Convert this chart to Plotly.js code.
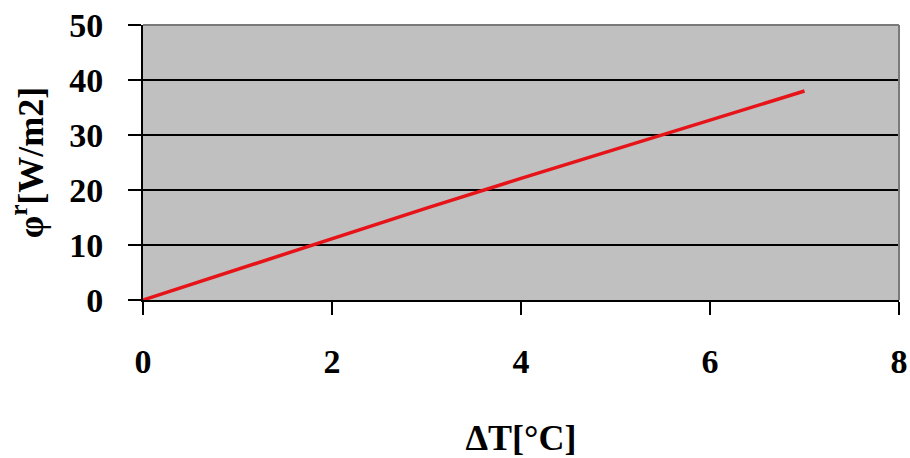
<!DOCTYPE html>
<html>
<head>
<meta charset="utf-8">
<script src="https://cdn.plot.ly/plotly-3.0.1.min.js"></script>
<style>html,body{margin:0;padding:0;background:#fff;}#chart{width:910px;height:458px;}</style>
</head>
<body>
<div id="chart"></div>
<script>
const deltaT = [0, 1, 2, 3, 4, 5, 6, 7];
const phiR = [0, 5.6, 11.2, 16.7, 22.1, 27.4, 32.7, 38];
const xTicks = [0, 2, 4, 6, 8];
const yTicks = [0, 10, 20, 30, 40, 50];

const font = {family: 'Liberation Serif, Times New Roman, serif', size: 34, color: '#000'};
const titleFont = {family: 'Liberation Serif, Times New Roman, serif', size: 36, color: '#000'};

const trace = {
  x: deltaT, y: phiR, type: 'scatter', mode: 'lines',
  line: {color: 'rgb(230,20,25)', width: 3.5},
  hoverinfo: 'skip'
};

const layout = {
  width: 910, height: 458,
  margin: {l: 143, r: 11, t: 25, b: 158},
  paper_bgcolor: '#ffffff',
  plot_bgcolor: '#c0c0c0',
  showlegend: false,
  font: font,
  xaxis: {
    range: [0, 8], tickvals: xTicks, ticktext: xTicks.map(v => '<b>' + v + '</b>'),
    showgrid: false, zeroline: false,
    showline: true, linecolor: '#000', linewidth: 2,
    ticks: 'outside', ticklen: 13, tickwidth: 2, tickcolor: '#000',
    ticklabelstandoff: 17,
    tickfont: font,
    title: {text: '<b>ΔT[°C]</b>', font: titleFont, standoff: 51},
    automargin: false, fixedrange: true
  },
  yaxis: {
    range: [0, 50], tickvals: yTicks, ticktext: yTicks.map(v => '<b>' + v + '</b>'),
    showgrid: true, gridcolor: '#000', gridwidth: 2, zeroline: false,
    showline: true, linecolor: '#000', linewidth: 2,
    ticks: 'outside', ticklen: 13, tickwidth: 2, tickcolor: '#000',
    ticklabelstandoff: 18,
    tickfont: font,
    title: {text: '<b>φ<sup>r</sup>[W/m2]</b>', font: titleFont, standoff: 15},
    automargin: false, fixedrange: true
  },
  shapes: [
    {type: 'line', xref: 'paper', yref: 'paper', x0: 0, x1: 1, y0: 1, y1: 1, line: {color: '#7a7a7a', width: 2}, layer: 'above'},
    {type: 'line', xref: 'paper', yref: 'paper', x0: 1, x1: 1, y0: 0, y1: 1, line: {color: '#7a7a7a', width: 2}, layer: 'above'}
  ]
};

Plotly.newPlot('chart', [trace], layout, {displayModeBar: false, staticPlot: true});
</script>
</body>
</html>
